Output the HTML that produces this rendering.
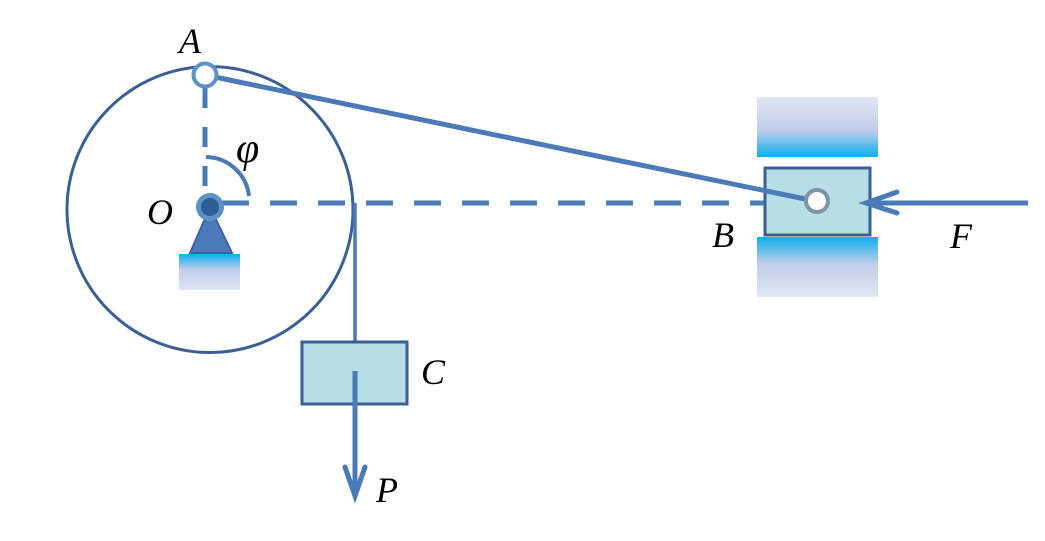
<!DOCTYPE html>
<html><head><style>body{margin:0;background:#fff}svg{display:block}</style></head><body>
<svg width="1045" height="541" viewBox="0 0 1045 541" xmlns="http://www.w3.org/2000/svg">
<defs>
<linearGradient id="gu" x1="0" y1="0" x2="0" y2="1"><stop offset="0" stop-color="#e0e6f4"/><stop offset="0.55" stop-color="#c3cde9"/><stop offset="1" stop-color="#0bb0ec"/></linearGradient>
<linearGradient id="gd" x1="0" y1="0" x2="0" y2="1"><stop offset="0" stop-color="#0bb0ec"/><stop offset="0.45" stop-color="#c3cde9"/><stop offset="1" stop-color="#e0e6f4"/></linearGradient>
</defs>
<circle cx="210" cy="209.5" r="143" fill="none" stroke="#3a5f94" stroke-width="3"/>
<rect x="757" y="97" width="121" height="60" fill="url(#gu)"/>
<rect x="757" y="237" width="121" height="60" fill="url(#gd)"/>
<rect x="179" y="254" width="61" height="36" fill="url(#gd)"/>
<polygon points="210,207 190,253 232,253" fill="#4a7ab8" stroke="#3a64a0" stroke-width="2"/>
<line x1="205" y1="88" x2="205" y2="200" stroke="#4a7ab8" stroke-width="5" stroke-dasharray="20,19"/>
<line x1="222" y1="203" x2="766" y2="203" stroke="#4a7ab8" stroke-width="5" stroke-dasharray="27,21"/>
<path d="M206,157 A44,44 0 0 1 249,196" fill="none" stroke="#4a7ab8" stroke-width="4"/>
<rect x="765" y="168" width="105" height="67" fill="#b7dde6" stroke="#3a5f94" stroke-width="3"/>
<line x1="205" y1="75" x2="815" y2="201" stroke="#4a7ab8" stroke-width="5"/>
<circle cx="817" cy="201" r="11" fill="#fff" stroke="#8092a8" stroke-width="4"/>
<circle cx="205" cy="75" r="11.5" fill="#fff" stroke="#5b92c9" stroke-width="4"/>
<circle cx="210" cy="207" r="14" fill="#5b92c9"/>
<circle cx="210" cy="207" r="9" fill="#2d5e96"/>
<line x1="1028" y1="203" x2="866" y2="203" stroke="#4a7ab8" stroke-width="5"/>
<polyline points="897,192 866,203 897,213" fill="none" stroke="#4a7ab8" stroke-width="5" stroke-linecap="round"/>
<line x1="355" y1="203" x2="355" y2="342" stroke="#4a7ab8" stroke-width="3.5"/>
<rect x="302" y="342" width="105" height="62" fill="#b7dde6" stroke="#3a5f94" stroke-width="3"/>
<line x1="355" y1="371" x2="355" y2="496" stroke="#4a7ab8" stroke-width="5"/>
<polyline points="345,467 355,496 365,467" fill="none" stroke="#4a7ab8" stroke-width="5" stroke-linecap="round"/>
<g font-family="Liberation Serif, serif" font-style="italic" font-size="36" fill="#000">
<text x="179" y="53">A</text>
<text x="147" y="224">O</text>
<text x="236" y="162" font-size="42">φ</text>
<text x="712" y="247">B</text>
<text x="950" y="248">F</text>
<text x="421" y="384">C</text>
<text x="376" y="502">P</text>
</g>
</svg>
</body></html>
